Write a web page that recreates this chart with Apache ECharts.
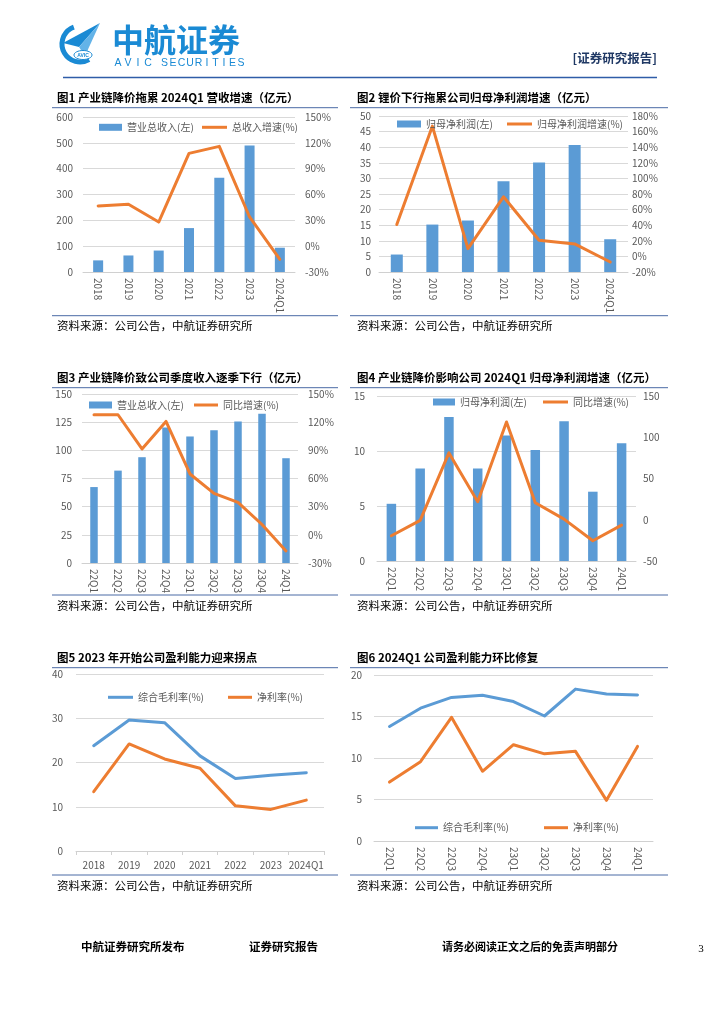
<!DOCTYPE html>
<html>
<head>
<meta charset="utf-8">
<script src="https://cdn.jsdelivr.net/npm/echarts@6/dist/echarts.min.js"></script>
<style>
html,body{margin:0;padding:0;background:#fff;}
#page{width:724px;height:1024px;}
</style>
</head>
<body>
<div id="page"></div>
<script>
// ---- data ----
const years = ['2018','2019','2020','2021','2022','2023','2024Q1'];
const quarters = ['22Q1','22Q2','22Q3','22Q4','23Q1','23Q2','23Q3','23Q4','24Q1'];
const revenueAnnual = [45, 64, 83, 170, 365, 490, 94];
const revenueGrowthAnnual = [46.6, 48.6, 28, 107.8, 115.9, 33.9, -15.3];
const profitAnnual = [5.6, 15.2, 16.5, 29.1, 35.1, 40.7, 10.5];
const profitGrowthAnnual = [40.8, 167, 10, 76.4, 20.7, 16, -7.2];
const revenueQuarter = [67.4, 82, 93.9, 120.3, 112.3, 117.9, 125.6, 132.5, 93];
const revenueGrowthQuarter = [127.9, 127.9, 91.5, 120.8, 64.8, 44.1, 34.5, 11, -17.2];
const profitQuarter = [5.2, 8.4, 13.1, 8.4, 11.4, 10.1, 12.7, 6.3, 10.7];
const profitGrowthQuarter = [-19.4, -0.8, 81, 21.8, 118.5, 20.6, 0.8, -25.4, -6.5];
const grossMarginAnnual = [23.8, 29.6, 29.0, 21.5, 16.4, 17.1, 17.7];
const netMarginAnnual = [13.4, 24.2, 20.8, 18.7, 10.2, 9.4, 11.5];
const grossMarginQuarter = [13.8, 16.0, 17.3, 17.55, 16.8, 15.06, 18.3, 17.7, 17.6];
const netMarginQuarter = [7.1, 9.56, 14.9, 8.4, 11.6, 10.5, 10.8, 4.9, 11.4];

// axis ranges [min, max, step]
const ax1L = [0, 600, 100], ax1R = [-30, 150, 30];
const ax2L = [0, 50, 5], ax2R = [-20, 180, 20];
const ax3L = [0, 150, 25], ax3R = [-30, 150, 30];
const ax4L = [0, 15, 5], ax4R = [-50, 150, 50];
const ax5L = [0, 40, 10];
const ax6L = [0, 20, 5];

const titles = [
  '图1 产业链降价拖累 2024Q1 营收增速（亿元）',
  '图2 锂价下行拖累公司归母净利润增速（亿元）',
  '图3 产业链降价致公司季度收入逐季下行（亿元）',
  '图4 产业链降价影响公司 2024Q1 归母净利润增速（亿元）',
  '图5 2023 年开始公司盈利能力迎来拐点',
  '图6 2024Q1 公司盈利能力环比修复'
];
const sourceText = '资料来源：公司公告，中航证券研究所';

// ---- style constants ----
const FONT = '"Noto Sans CJK SC", "Noto Sans", sans-serif';
const BLUE = '#5b9bd5', ORANGE = '#ed7d31', LABEL = '#595959', GRID = '#d9d9d9';
const LOGO = '#1a8ad4', NAVY = '#1f3864', RULE = '#4a6aa5';

const chart = echarts.init(document.getElementById('page'), null, {renderer:'canvas'});

function xAx(gi, cats, rotate, ticks) {
  return {
    type:'category', gridIndex:gi, data:cats, boundaryGap:true,
    axisLine:{show:true, lineStyle:{color:'#d0d0d0', width:1}},
    axisTick:{show:!!ticks, length:4, lineStyle:{color:'#d0d0d0'}},
    axisLabel:{rotate:rotate, margin: rotate ? 6 : 9, color:LABEL, fontSize:10, fontFamily:FONT, interval:0}
  };
}
function yAx(gi, r, pos, opts) {
  opts = opts || {};
  return {
    type:'value', gridIndex:gi, position:pos, min:r[0], max:r[1], interval:r[2],
    axisLine:{show:false}, axisTick:{show:false},
    splitLine:{show: pos === 'left', lineStyle:{color:GRID, width:1}},
    axisLabel:{color:LABEL, fontSize:10, fontFamily:FONT, margin:opts.margin || 10,
      formatter: opts.pct ? '{value}%' : '{value}'}
  };
}
function leg(name, left, cy, icon, w, h) {
  return {
    data:[name], left:left, top:cy - 7, padding:0, icon:icon, itemWidth:w, itemHeight:h,
    selectedMode:false,
    textStyle:{color:LABEL, fontSize:10, fontFamily:FONT, lineHeight:14}
  };
}
function bar(name, xi, yi, data, w) {
  return {type:'bar', name:name, xAxisIndex:xi, yAxisIndex:yi, data:data, barWidth:w,
    itemStyle:{color:BLUE}, silent:true};
}
function line(name, xi, yi, data, color, w) {
  return {type:'line', name:name, xAxisIndex:xi, yAxisIndex:yi, data:data, symbol:'none',
    lineStyle:{color:color, width:w || 3, cap:'round', join:'round'}, itemStyle:{color:color}, silent:true};
}

// ---- graphic (page decoration and text) ----
const graphic = [];
function txt(x, y, s, font, fill, align) {
  graphic.push({type:'text', silent:true, style:{x:x, y:y, text:s, font:font, fill:fill,
    align:align || 'left', verticalAlign:'middle'}});
}
function hline(x1, x2, y, color, w) {
  graphic.push({type:'line', silent:true, shape:{x1:x1, y1:y, x2:x2, y2:y}, style:{stroke:color, lineWidth:w || 1}});
}
// logo
graphic.push({type:'arc', silent:true, shape:{cx:80, cy:44, r:18, startAngle:60*Math.PI/180, endAngle:250*Math.PI/180, clockwise:true},
  style:{stroke:LOGO, lineWidth:5, fill:null}});
graphic.push({type:'polygon', silent:true, shape:{points:[[100,23],[63,43],[79,47]]}, style:{fill:LOGO}});
graphic.push({type:'polygon', silent:true, shape:{points:[[100,23],[79,47],[85,56]]}, style:{fill:'#63b3e8'}});
graphic.push({type:'ellipse', silent:true, shape:{cx:83, cy:55, rx:9, ry:4.5}, style:{fill:'#fff', stroke:LOGO, lineWidth:1}});
txt(83, 55.3, 'AVIC', 'bold 5px "Liberation Sans", sans-serif', LOGO, 'center');
txt(112, 40, '中航证券', 'bold 32px ' + FONT, LOGO);
const avic = 'AVIC', sec = 'SECURITIES';
for (let i = 0; i < avic.length; i++) txt(118 + i * 10, 63, avic[i], '10.5px "Liberation Sans", sans-serif', LOGO, 'center');
for (let i = 0; i < sec.length; i++) txt(164.5 + i * 8.5, 63, sec[i], '10.5px "Liberation Sans", sans-serif', LOGO, 'center');
txt(657, 58, '[证券研究报告]', 'bold 12.5px ' + FONT, NAVY, 'right');
hline(63, 657, 77.5, '#2f5da8', 1.3);

// chart frames
const frames = [
  {x:57, x1:52, x2:338, tY:97.7, top:107.7, bot:315.7, src:325.7},
  {x:357, x1:350, x2:668, tY:97.7, top:107.7, bot:315.7, src:325.7},
  {x:57, x1:52, x2:338, tY:377.7, top:387.7, bot:595, src:605.7},
  {x:357, x1:350, x2:668, tY:377.7, top:387.7, bot:595, src:605.7},
  {x:57, x1:52, x2:338, tY:657.7, top:667.7, bot:875, src:885.7},
  {x:357, x1:350, x2:668, tY:657.7, top:667.7, bot:875, src:885.7}
];
frames.forEach((f, i) => {
  txt(f.x, f.tY, titles[i], 'bold 11.5px ' + FONT, '#000');
  hline(f.x1, f.x2, f.top, RULE, 1);
  hline(f.x1, f.x2, f.bot, RULE, 1);
  txt(f.x, f.src, sourceText, '11.5px ' + FONT, '#000');
});
// footer
txt(81, 947, '中航证券研究所发布', 'bold 11.5px ' + FONT, '#000');
txt(249, 947, '证券研究报告', 'bold 11.5px ' + FONT, '#000');
txt(442, 947, '请务必阅读正文之后的免责声明部分', 'bold 11px ' + FONT, '#000');
txt(701, 949, '3', '11px "Liberation Serif", serif', '#000', 'center');

const option = {
  backgroundColor:'#fff',
  animation:false,
  textStyle:{fontFamily:FONT},
  grid:[
    {left:83, top:117, width:212, height:155},
    {left:379, top:116, width:249, height:156},
    {left:82, top:394, width:216, height:169},
    {left:377, top:396, width:259, height:165},
    {left:76, top:674, width:248, height:177},
    {left:374, top:675, width:279, height:166}
  ],
  xAxis:[
    xAx(0, years, -90, false),
    xAx(1, years, -90, false),
    xAx(2, quarters, -90, false),
    xAx(3, quarters, -90, false),
    xAx(4, years, 0, true),
    xAx(5, quarters, -90, false)
  ],
  yAxis:[
    yAx(0, ax1L, 'left'), yAx(0, ax1R, 'right', {pct:true}),
    yAx(1, ax2L, 'left', {margin:8}), yAx(1, ax2R, 'right', {pct:true, margin:4}),
    yAx(2, ax3L, 'left'), yAx(2, ax3R, 'right', {pct:true}),
    yAx(3, ax4L, 'left', {margin:12}), yAx(3, ax4R, 'right', {margin:7}),
    yAx(4, ax5L, 'left', {margin:13}),
    yAx(5, ax6L, 'left', {margin:12})
  ],
  legend:[
    leg('营业总收入(左)', 99, 127.3, 'rect', 23, 7),
    leg('总收入增速(%)', 202, 127.3, 'rect', 25, 3),
    leg('归母净利润(左)', 397, 124, 'rect', 24, 7),
    leg('归母净利润增速(%)', 507, 124, 'rect', 25, 3),
    leg('营业总收入(左)', 89, 405, 'rect', 23, 7),
    leg('同比增速(%)', 194, 405, 'rect', 24, 3),
    leg('归母净利润(左)', 433, 402, 'rect', 22, 7),
    leg('同比增速(%)', 543, 402, 'rect', 25, 3),
    leg('综合毛利率(%)', 108, 697.3, 'rect', 25, 3),
    leg('净利率(%)', 228, 697.3, 'rect', 24, 3),
    leg('综合毛利率(%)', 415, 827.7, 'rect', 23, 3),
    leg('净利率(%)', 544, 827.7, 'rect', 24, 3)
  ],
  series:[
    bar('营业总收入(左)', 0, 0, revenueAnnual, 10),
    line('总收入增速(%)', 0, 1, revenueGrowthAnnual, ORANGE, 3),
    bar('归母净利润(左)', 1, 2, profitAnnual, 12),
    line('归母净利润增速(%)', 1, 3, profitGrowthAnnual, ORANGE, 3),
    bar('营业总收入(左)', 2, 4, revenueQuarter, 7.5),
    line('同比增速(%)', 2, 5, revenueGrowthQuarter, ORANGE, 3),
    bar('归母净利润(左)', 3, 6, profitQuarter, 9.5),
    line('同比增速(%)', 3, 7, profitGrowthQuarter, ORANGE, 3),
    line('综合毛利率(%)', 4, 8, grossMarginAnnual, BLUE, 3),
    line('净利率(%)', 4, 8, netMarginAnnual, ORANGE, 3),
    line('综合毛利率(%)', 5, 9, grossMarginQuarter, BLUE, 3),
    line('净利率(%)', 5, 9, netMarginQuarter, ORANGE, 3)
  ],
  graphic:graphic
};
chart.setOption(option);
</script>
</body>
</html>
